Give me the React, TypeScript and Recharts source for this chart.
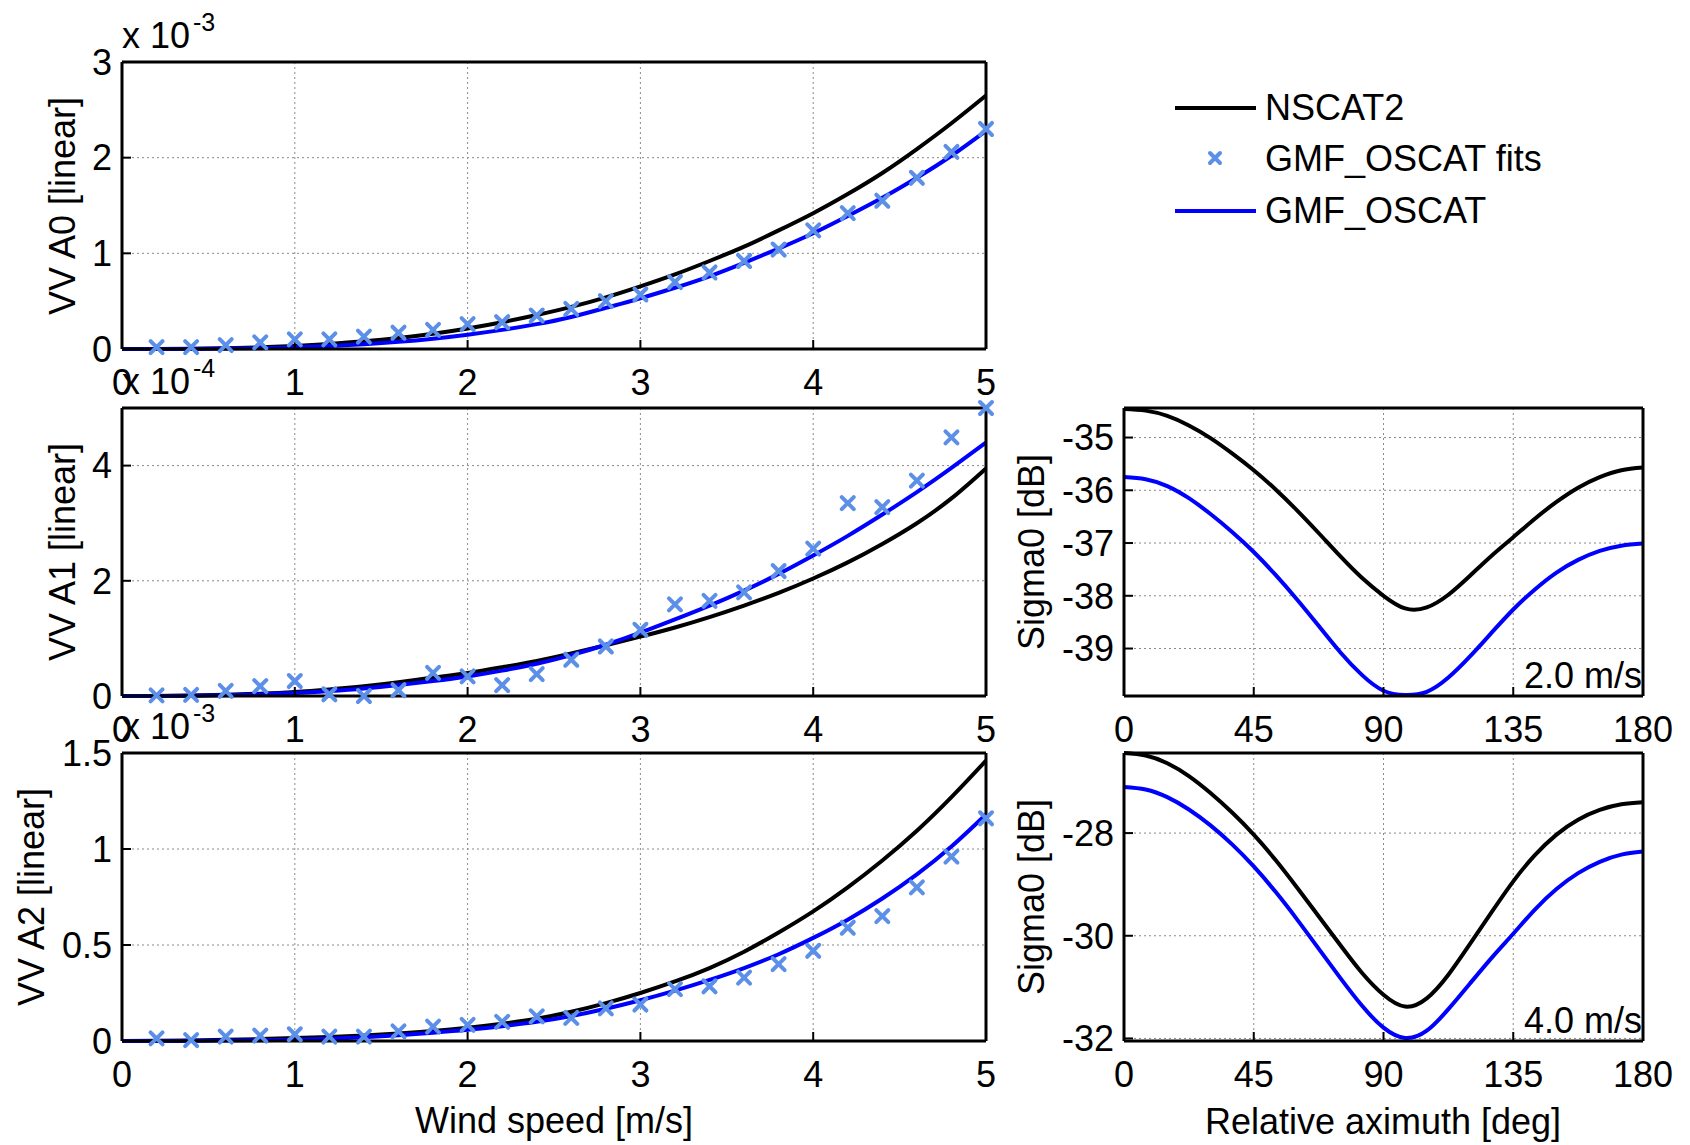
import React from 'react';
import { ComposedChart, Line, Scatter, XAxis, YAxis, CartesianGrid, Legend } from 'recharts';

// wind speed grid [m/s] for the model curves, and for the fitted points
const windSpeed = [0, 0.2, 0.4, 0.6, 0.8, 1, 1.2, 1.4, 1.6, 1.8, 2, 2.2, 2.4, 2.6, 2.8, 3, 3.2, 3.4, 3.6, 3.8, 4, 4.2, 4.4, 4.6, 4.8, 5];
const fitSpeed = [0.2, 0.4, 0.6, 0.8, 1, 1.2, 1.4, 1.6, 1.8, 2, 2.2, 2.4, 2.6, 2.8, 3, 3.2, 3.4, 3.6, 3.8, 4, 4.2, 4.4, 4.6, 4.8, 5];

// VV A0 (x 1e-3)
const a0Nscat = [0, 0.001, 0.003, 0.008, 0.017, 0.032, 0.053, 0.08, 0.115, 0.16, 0.215, 0.28, 0.355, 0.44, 0.54, 0.655, 0.78, 0.92, 1.07, 1.24, 1.42, 1.62, 1.84, 2.09, 2.36, 2.65];
const a0Oscat = [0, 0, 0.001, 0.004, 0.009, 0.018, 0.031, 0.05, 0.075, 0.108, 0.15, 0.2, 0.26, 0.335, 0.43, 0.53, 0.64, 0.76, 0.9, 1.05, 1.21, 1.39, 1.58, 1.79, 2.02, 2.28];
const a0Fits = [0.02, 0.02, 0.04, 0.07, 0.1, 0.1, 0.13, 0.17, 0.2, 0.26, 0.28, 0.35, 0.42, 0.5, 0.57, 0.7, 0.8, 0.92, 1.04, 1.24, 1.42, 1.55, 1.79, 2.06, 2.3];

// VV A1 (x 1e-4)
const a1Nscat = [0, 0.001, 0.007, 0.02, 0.04, 0.07, 0.115, 0.17, 0.24, 0.32, 0.4, 0.5, 0.61, 0.74, 0.88, 1.03, 1.19, 1.37, 1.57, 1.79, 2.04, 2.32, 2.64, 3.0, 3.43, 3.95];
const a1Oscat = [0, 0, 0.004, 0.012, 0.028, 0.05, 0.085, 0.13, 0.19, 0.26, 0.34, 0.44, 0.56, 0.71, 0.89, 1.1, 1.33, 1.57, 1.83, 2.12, 2.44, 2.78, 3.15, 3.54, 3.96, 4.4];
const a1Fits = [0.01, 0.02, 0.09, 0.17, 0.26, 0.03, 0, 0.1, 0.4, 0.34, 0.19, 0.38, 0.63, 0.86, 1.15, 1.59, 1.65, 1.8, 2.17, 2.56, 3.35, 3.28, 3.74, 4.49, 5.0];

// VV A2 (x 1e-3)
const a2Nscat = [0, 0.001, 0.003, 0.006, 0.01, 0.015, 0.021, 0.029, 0.039, 0.052, 0.069, 0.09, 0.116, 0.152, 0.197, 0.25, 0.31, 0.38, 0.465, 0.565, 0.675, 0.8, 0.94, 1.095, 1.27, 1.46];
const a2Oscat = [0, 0, 0.001, 0.002, 0.004, 0.007, 0.012, 0.02, 0.03, 0.043, 0.058, 0.077, 0.1, 0.13, 0.168, 0.212, 0.262, 0.318, 0.38, 0.452, 0.537, 0.632, 0.742, 0.868, 1.013, 1.18];
const a2Fits = [0.014, 0.005, 0.023, 0.028, 0.035, 0.023, 0.023, 0.05, 0.075, 0.084, 0.1, 0.128, 0.12, 0.17, 0.19, 0.27, 0.285, 0.33, 0.4, 0.47, 0.59, 0.65, 0.8, 0.96, 1.16];

// relative azimuth [deg] and sigma0 [dB]
const azimuth = [0, 7.5, 15, 22.5, 30, 37.5, 45, 52.5, 60, 67.5, 75, 82.5, 90, 97.5, 105, 112.5, 120, 127.5, 135, 142.5, 150, 157.5, 165, 172.5, 180];
const s2Nscat = [-34.46, -34.49, -34.59, -34.77, -35.01, -35.3, -35.62, -35.98, -36.38, -36.81, -37.25, -37.66, -38.0, -38.24, -38.22, -37.98, -37.62, -37.24, -36.89, -36.54, -36.22, -35.95, -35.75, -35.62, -35.57];
const s2Oscat = [-35.75, -35.79, -35.92, -36.15, -36.45, -36.79, -37.17, -37.6, -38.07, -38.57, -39.07, -39.5, -39.8, -39.88, -39.82, -39.55, -39.15, -38.7, -38.26, -37.88, -37.56, -37.32, -37.15, -37.05, -37.01];
const s4Nscat = [-26.44, -26.49, -26.64, -26.89, -27.22, -27.6, -28.03, -28.52, -29.06, -29.62, -30.18, -30.72, -31.15, -31.38, -31.22, -30.76, -30.16, -29.54, -28.94, -28.43, -28.03, -27.74, -27.55, -27.44, -27.4];
const s4Oscat = [-27.1, -27.15, -27.3, -27.54, -27.85, -28.22, -28.65, -29.14, -29.68, -30.25, -30.82, -31.36, -31.79, -31.99, -31.85, -31.43, -30.93, -30.43, -29.96, -29.49, -29.09, -28.78, -28.56, -28.42, -28.36];

// ticks
const windTicks = [0, 1, 2, 3, 4, 5];
const a0Ticks = [0, 1, 2, 3];
const a1Ticks = [0, 2, 4];
const a2Ticks = [0, 0.5, 1, 1.5];
const azTicks = [0, 45, 90, 135, 180];
const s2Ticks = [-39, -38, -37, -36, -35];
const s4Ticks = [-32, -30, -28];

const legendOrder = ['NSCAT2', 'GMF_OSCAT fits', 'GMF_OSCAT'];

const W = 1690;
const H = 1145;
const FONT = "'Liberation Sans', Arial, Helvetica, sans-serif";
const BLUE = '#0000ff';
const FIT = '#5b8fe8';

const range = (a: number, b: number, step: number) => {
  const out: number[] = [];
  for (let v = a; v <= b + 1e-9; v += step) out.push(Math.round(v * 1000) / 1000);
  return out;
};

const windRows = (n: number[], o: number[]) => windSpeed.map((x, i) => ({ x, nscat: n[i], oscat: o[i] }));
const fitRows = (f: number[]) => fitSpeed.map((x, i) => ({ x, fit: f[i] }));
const azRows = (n: number[], o: number[]) => azimuth.map((x, i) => ({ x, nscat: n[i], oscat: o[i] }));

const FitMarker = (props: any) => {
  const { cx, cy } = props;
  if (cx == null || cy == null || isNaN(cx) || isNaN(cy)) return <g />;
  const s = 6;
  return (
    <path
      d={`M${cx - s},${cy - s}L${cx + s},${cy + s}M${cx - s},${cy + s}L${cx + s},${cy - s}`}
      stroke={FIT}
      strokeWidth={4}
      strokeLinecap="round"
      fill="none"
    />
  );
};

const LegendBox = ({ payload }: any) => {
  const items = legendOrder
    .map((n) => (payload || []).find((p: any) => p.value === n))
    .filter(Boolean);
  return (
    <div style={{ fontFamily: FONT, fontSize: 36, color: '#000' }}>
      {items.map((item: any) => (
        <div key={item.value} style={{ display: 'flex', alignItems: 'center', height: 51.5 }}>
          <svg width={90} height={20}>
            {item.value === 'GMF_OSCAT fits' ? (
              <path d="M40,4L50,14M40,14L50,4" stroke={FIT} strokeWidth={4} strokeLinecap="round" />
            ) : (
              <line x1={5} x2={86} y1={10} y2={10} stroke={item.color} strokeWidth={4} />
            )}
          </svg>
          <span style={{ marginLeft: 5, lineHeight: '36px', whiteSpace: 'nowrap' }}>{item.value}</span>
        </div>
      ))}
    </div>
  );
};

// box with inward major and minor ticks on all four sides, like a matlab axes.
// every axis is 1px thick (recharts skips a 0px axis), so the margins are 2px smaller
function frameAxes(xDomain: number[], xTicks: number[], xMinor: number[], yDomain: number[], yTicks: number[], yMinor: number[]) {
  const axisLine = { stroke: '#000', strokeWidth: 3 };
  const tickLine = { stroke: '#000', strokeWidth: 2 };
  const tickStyle = { fontSize: 36, fill: '#000', fontFamily: FONT };
  return [
    <XAxis key="xb" type="number" dataKey="x" domain={xDomain} ticks={xTicks} interval={0} height={1}
      tickSize={-9} tickMargin={29} axisLine={axisLine} tickLine={tickLine} tick={tickStyle} />,
    <XAxis key="xbm" xAxisId="xbm" type="number" dataKey="x" domain={xDomain} allowDataOverflow ticks={xMinor}
      interval={0} height={1} tickSize={-5} tick={false} axisLine={false} tickLine={tickLine} />,
    <XAxis key="xt" xAxisId="xt" orientation="top" type="number" dataKey="x" domain={xDomain} allowDataOverflow
      ticks={xTicks} interval={0} height={1} tickSize={-9} tick={false} axisLine={axisLine} tickLine={tickLine} />,
    <XAxis key="xtm" xAxisId="xtm" orientation="top" type="number" dataKey="x" domain={xDomain} allowDataOverflow
      ticks={xMinor} interval={0} height={1} tickSize={-5} tick={false} axisLine={false} tickLine={tickLine} />,
    <YAxis key="yl" type="number" domain={yDomain} ticks={yTicks} interval={0} width={1}
      tickSize={-9} tickMargin={19} axisLine={axisLine} tickLine={tickLine} tick={tickStyle} />,
    <YAxis key="ylm" yAxisId="ylm" type="number" domain={yDomain} allowDataOverflow ticks={yMinor} interval={0}
      width={1} tickSize={-5} tick={false} axisLine={false} tickLine={tickLine} />,
    <YAxis key="yr" yAxisId="yr" orientation="right" type="number" domain={yDomain} allowDataOverflow ticks={yTicks}
      interval={0} width={1} tickSize={-9} tick={false} axisLine={axisLine} tickLine={tickLine} />,
    <YAxis key="yrm" yAxisId="yrm" orientation="right" type="number" domain={yDomain} allowDataOverflow ticks={yMinor}
      interval={0} width={1} tickSize={-5} tick={false} axisLine={false} tickLine={tickLine} />,
  ];
}

const grid = <CartesianGrid stroke="#8a8a8a" strokeDasharray="2 3" strokeWidth={1} />;

const WindPanel = ({ top, bottom, nscat, oscat, fits, yDomain, yTicks, yMinor, legend }: any) => (
  <div style={{ position: 'absolute', left: 0, top: 0 }}>
    <ComposedChart width={W} height={H} data={windRows(nscat, oscat)}
      margin={{ top: top - 2, bottom: H - bottom - 2, left: 120, right: W - 986 - 2 }}>
      {grid}
      {frameAxes([0, 5], windTicks, windSpeed, yDomain, yTicks, yMinor)}
      <Line name="NSCAT2" dataKey="nscat" type="natural" stroke="#000" strokeWidth={4} dot={false} isAnimationActive={false} />
      <Scatter name="GMF_OSCAT fits" data={fitRows(fits)} dataKey="fit" fill={FIT} shape={FitMarker} isAnimationActive={false} />
      <Line name="GMF_OSCAT" dataKey="oscat" type="natural" stroke={BLUE} strokeWidth={4} dot={false} isAnimationActive={false} />
      {legend && (
        <Legend layout="vertical" align="center" verticalAlign="middle" content={LegendBox}
          wrapperStyle={{ left: 1170, top: 82, width: 470, height: 160 }} />
      )}
    </ComposedChart>
  </div>
);

const AzPanel = ({ top, bottom, nscat, oscat, yDomain, yTicks, yMinor }: any) => (
  <div style={{ position: 'absolute', left: 0, top: 0 }}>
    <ComposedChart width={W} height={H} data={azRows(nscat, oscat)}
      margin={{ top: top - 2, bottom: H - bottom - 2, left: 1122, right: W - 1643 - 2 }}>
      {grid}
      {frameAxes([0, 180], azTicks, range(0, 180, 5), yDomain, yTicks, yMinor)}
      <Line name="NSCAT2" dataKey="nscat" type="natural" stroke="#000" strokeWidth={4} dot={false} isAnimationActive={false} />
      <Line name="GMF_OSCAT" dataKey="oscat" type="natural" stroke={BLUE} strokeWidth={4} dot={false} isAnimationActive={false} />
    </ComposedChart>
  </div>
);

const Multiplier = ({ y, exp }: { y: number; exp: string }) => (
  <text x={122} y={y} fontSize={36}>
    x 10<tspan dx={3} dy={-17} fontSize={25}>{exp}</tspan>
  </text>
);

const VTitle = ({ x, y, children }: any) => (
  <text transform={`translate(${x},${y}) rotate(-90)`} textAnchor="middle" fontSize={36}>{children}</text>
);

export default function App() {
  return (
    <div style={{ position: 'absolute', left: 0, top: 0, width: W, height: H, background: '#fff' }}>
      <WindPanel top={62} bottom={349} nscat={a0Nscat} oscat={a0Oscat} fits={a0Fits}
        yDomain={[0, 3]} yTicks={a0Ticks} yMinor={range(0, 3, 0.2)} legend />
      <WindPanel top={408} bottom={696} nscat={a1Nscat} oscat={a1Oscat} fits={a1Fits}
        yDomain={[0, 5]} yTicks={a1Ticks} yMinor={range(0, 5, 0.5)} />
      <WindPanel top={753} bottom={1041} nscat={a2Nscat} oscat={a2Oscat} fits={a2Fits}
        yDomain={[0, 1.5]} yTicks={a2Ticks} yMinor={range(0, 1.5, 0.1)} />
      <AzPanel top={408} bottom={696} nscat={s2Nscat} oscat={s2Oscat}
        yDomain={[-39.9, -34.44]} yTicks={s2Ticks} yMinor={range(-39.9, -34.5, 0.1)} />
      <AzPanel top={753} bottom={1041} nscat={s4Nscat} oscat={s4Oscat}
        yDomain={[-32.05, -26.44]} yTicks={s4Ticks} yMinor={range(-32, -26.6, 0.2)} />
      <svg width={W} height={H} style={{ position: 'absolute', left: 0, top: 0, pointerEvents: 'none' }}
        fontFamily={FONT} fill="#000">
        <Multiplier y={48} exp="-3" />
        <Multiplier y={394} exp="-4" />
        <Multiplier y={739} exp="-3" />
        <VTitle x={75} y={206}>VV A0 [linear]</VTitle>
        <VTitle x={75} y={552}>VV A1 [linear]</VTitle>
        <VTitle x={44} y={897}>VV A2 [linear]</VTitle>
        <VTitle x={1044} y={552}>Sigma0 [dB]</VTitle>
        <VTitle x={1044} y={897}>Sigma0 [dB]</VTitle>
        <text x={554} y={1133} textAnchor="middle" fontSize={36}>Wind speed [m/s]</text>
        <text x={1383} y={1134} textAnchor="middle" fontSize={36}>Relative aximuth [deg]</text>
        <text x={1642} y={688} textAnchor="end" fontSize={36}>2.0 m/s</text>
        <text x={1642} y={1033} textAnchor="end" fontSize={36}>4.0 m/s</text>
      </svg>
    </div>
  );
}
